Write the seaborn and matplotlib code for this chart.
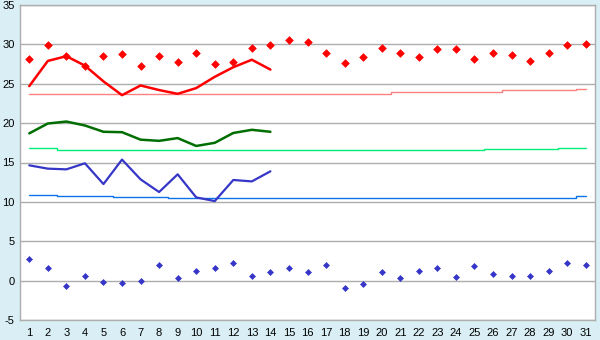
import numpy as np
import pandas as pd
import matplotlib
matplotlib.use("Agg")
import matplotlib.pyplot as plt
import seaborn as sns

# dias do mês
days = list(range(1, 32))
days_line = list(range(1, 15))

# pontos diários (vermelho = máximas, azul = mínimas)
max_points = [28.2, 29.9, 28.55, 27.3, 28.5, 28.8, 27.3, 28.5, 27.7, 28.85,
              27.45, 27.7, 29.6, 29.9, 30.6, 30.25, 28.85, 27.6, 28.35, 29.5,
              28.85, 28.35, 29.35, 29.35, 28.1, 28.85, 28.6, 27.95, 28.85, 29.9, 30.1]
min_points = [2.77, 1.63, -0.66, 0.61, -0.15, -0.28, -0.03, 2.0, 0.35, 1.25,
              1.63, 2.26, 0.61, 1.12, 1.63, 1.12, 2.0, -0.92, -0.41, 1.12,
              0.35, 1.25, 1.63, 0.48, 1.88, 0.86, 0.61, 0.61, 1.25, 2.26, 2.0]

# curvas (dias 1-14)
red_line = [24.7, 27.9, 28.5, 27.3, 25.3, 23.55, 24.78, 24.2, 23.72, 24.45,
            25.88, 27.1, 28.05, 26.8]
green_line = [18.7, 19.95, 20.2, 19.7, 18.9, 18.85, 17.9, 17.75, 18.1, 17.1,
              17.5, 18.75, 19.15, 18.9]
blue_line = [14.64, 14.22, 14.13, 14.9, 12.26, 15.37, 12.86, 11.25, 13.5, 10.57,
             10.1, 12.78, 12.6, 13.88]

# normais (degraus)
red_normal = [23.65] * 11 + [23.75] * 9 + [23.9] * 3 + [24.0] * 3 + [24.15] * 4 + [24.3]
green_normal = [16.8] * 2 + [16.65] * 23 + [16.75] * 4 + [16.9] * 2
blue_normal = [10.9] * 2 + [10.8] * 3 + [10.65] * 3 + [10.53] * 22 + [10.7]

sns.set_style("white")
plt.rcParams["font.family"] = ["Liberation Sans", "DejaVu Sans"]
plt.rcParams["axes.unicode_minus"] = False

fig = plt.figure(figsize=(6.0, 3.4), dpi=100, facecolor="#DAEFF5")
ax = fig.add_axes([20 / 600, 20 / 340, 575 / 600, 315 / 340])
ax.set_facecolor("white")

for y in range(-5, 36, 5):
    ax.axhline(y, color="#ADADAD", lw=1.0, zorder=0)

sns.lineplot(x=days, y=red_normal, drawstyle="steps-mid", color="#FF8080", lw=1.0, ax=ax)
sns.lineplot(x=days, y=green_normal, drawstyle="steps-mid", color="#00EE77", lw=1.0, ax=ax)
sns.lineplot(x=days, y=blue_normal, drawstyle="steps-mid", color="#0A74E8", lw=1.0, ax=ax)

sns.lineplot(x=days_line, y=red_line, color="#FF0000", lw=1.8, ax=ax)
sns.lineplot(x=days_line, y=green_line, color="#006E00", lw=1.8, ax=ax)
sns.lineplot(x=days_line, y=blue_line, color="#3636C8", lw=1.6, ax=ax)

sns.scatterplot(x=days, y=max_points, marker="D", s=15, color="#FF0000",
                edgecolor="#FF0000", linewidth=0.5, ax=ax, zorder=5)
sns.scatterplot(x=days, y=min_points, marker="D", s=9, color="#3636C8",
                edgecolor="#3636C8", linewidth=0.5, ax=ax, zorder=5)

ax.set_xlim(0.5, 31.5)
ax.set_ylim(-5, 35)
ax.set_xticks(days)
ax.set_yticks(range(-5, 36, 5))
ax.tick_params(axis="both", direction="out", length=4, width=1, color="#333333",
               labelsize=8, labelcolor="black", pad=2)
ax.tick_params(axis="y", length=3, pad=1)
for side in ["left", "bottom", "right", "top"]:
    ax.spines[side].set_color("#ADADAD")
    ax.spines[side].set_linewidth(1.0)
ax.set_xlabel("")
ax.set_ylabel("")

fig.savefig("out.png", dpi=100, facecolor=fig.get_facecolor())
